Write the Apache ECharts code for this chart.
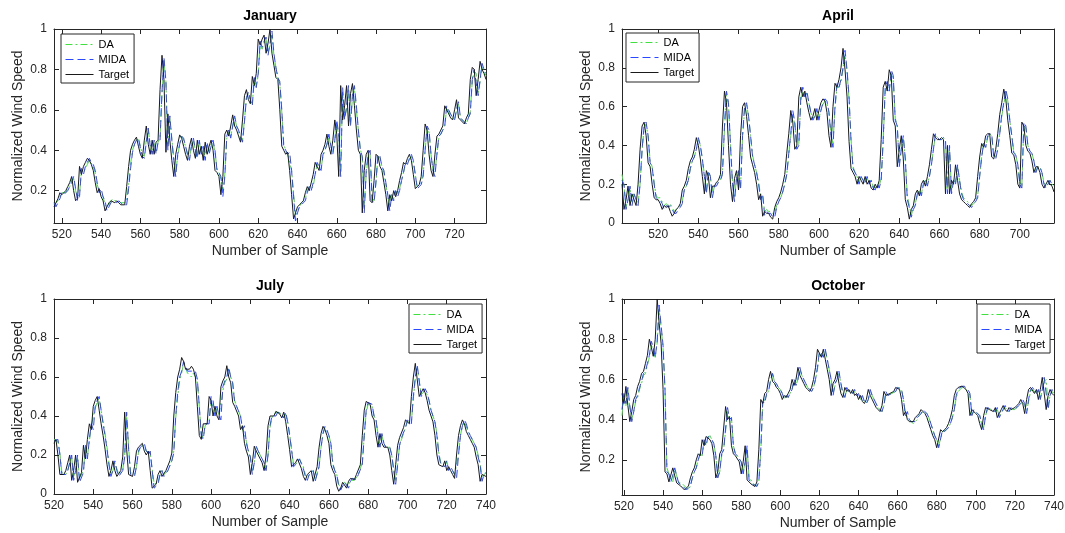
<!DOCTYPE html>
<html><head><meta charset="utf-8">
<script src="https://cdn.jsdelivr.net/npm/echarts@6/dist/echarts.min.js"></script>
<style>html,body{margin:0;padding:0;background:#fff}#c{width:1065px;height:533px}</style>
</head><body><div id="c"></div>
<script>
// ---------------- DATA ----------------
const seriesNames = ['DA', 'MIDA', 'Target'];
const panelTitles = ['January', 'April', 'July', 'October'];
const xAxisLabel = 'Number of Sample';
const yAxisLabel = 'Normalized Wind Speed';

const janXTicks = [520,540,560,580,600,620,640,660,680,700,720];
const aprXTicks = [520,540,560,580,600,620,640,660,680,700];
const julXTicks = [520,540,560,580,600,620,640,660,680,700,720,740];
const octXTicks = [520,540,560,580,600,620,640,660,680,700,720,740];
const yTicksFrom0 = [0,0.2,0.4,0.6,0.8,1];
const yTicksFrom02 = [0.2,0.4,0.6,0.8,1];

// January, samples 516..736
const janStart = 516;
const janTarget = [0.12,0.14,0.16,0.19,0.18,0.19,0.2,0.22,0.24,0.27,
0.2,0.15,0.16,0.32,0.28,0.32,0.34,0.36,0.35,0.33,
0.3,0.24,0.19,0.21,0.17,0.15,0.1,0.12,0.14,0.15,
0.15,0.14,0.15,0.14,0.13,0.13,0.13,0.22,0.32,0.4,
0.43,0.45,0.465,0.42,0.38,0.36,0.45,0.52,0.43,0.38,
0.45,0.38,0.44,0.45,0.7,0.87,0.75,0.39,0.58,0.45,
0.35,0.27,0.38,0.43,0.476,0.46,0.42,0.38,0.35,0.42,
0.46,0.4,0.36,0.45,0.38,0.42,0.35,0.44,0.38,0.42,
0.45,0.4,0.3,0.29,0.27,0.18,0.27,0.48,0.5,0.47,
0.52,0.575,0.52,0.5,0.47,0.44,0.55,0.67,0.7,0.65,
0.63,0.765,0.72,0.78,0.95,0.92,0.95,0.97,0.88,0.93,
1.0,0.88,0.82,0.76,0.75,0.6,0.42,0.4,0.38,0.39,
0.3,0.18,0.06,0.09,0.12,0.13,0.14,0.15,0.19,0.22,
0.2,0.2,0.28,0.34,0.32,0.3,0.38,0.4,0.43,0.48,
0.42,0.38,0.45,0.55,0.48,0.27,0.72,0.55,0.62,0.72,
0.52,0.68,0.73,0.62,0.5,0.4,0.38,0.09,0.3,0.38,
0.4,0.15,0.14,0.25,0.38,0.37,0.32,0.3,0.24,0.18,
0.1,0.18,0.15,0.2,0.17,0.2,0.25,0.29,0.34,0.33,
0.36,0.38,0.35,0.28,0.21,0.22,0.23,0.27,0.4,0.53,
0.5,0.38,0.3,0.27,0.38,0.47,0.48,0.5,0.52,0.62,
0.6,0.58,0.56,0.55,0.6,0.65,0.56,0.55,0.54,0.53,
0.56,0.58,0.75,0.81,0.8,0.67,0.75,0.84,0.8,0.78,
0.75];
const janDA = [0.13,0.13,0.15,0.17,0.19,0.19,0.19,0.21,0.22,0.25,
0.26,0.2,0.17,0.18,0.3,0.29,0.31,0.33,0.35,0.35,
0.32,0.29,0.23,0.2,0.2,0.17,0.13,0.12,0.13,0.15,
0.16,0.15,0.15,0.15,0.14,0.14,0.14,0.15,0.23,0.33,
0.4,0.43,0.45,0.46,0.42,0.38,0.37,0.45,0.5,0.43,
0.4,0.44,0.39,0.44,0.46,0.68,0.84,0.74,0.43,0.56,
0.46,0.36,0.29,0.37,0.43,0.47,0.45,0.42,0.38,0.36,
0.42,0.45,0.4,0.37,0.44,0.39,0.41,0.36,0.43,0.39,
0.43,0.44,0.39,0.31,0.29,0.26,0.2,0.28,0.46,0.49,
0.47,0.52,0.56,0.52,0.49,0.46,0.45,0.55,0.66,0.68,
0.64,0.63,0.75,0.72,0.77,0.92,0.9,0.93,0.95,0.88,
0.92,0.97,0.87,0.81,0.76,0.73,0.59,0.43,0.4,0.38,
0.38,0.3,0.19,0.08,0.1,0.12,0.14,0.15,0.16,0.2,
0.22,0.21,0.22,0.28,0.33,0.32,0.31,0.37,0.4,0.43,
0.47,0.42,0.39,0.44,0.53,0.47,0.3,0.68,0.56,0.6,
0.7,0.53,0.66,0.71,0.6,0.5,0.41,0.36,0.12,0.28,
0.37,0.38,0.17,0.15,0.24,0.37,0.36,0.32,0.29,0.23,
0.17,0.12,0.18,0.16,0.2,0.18,0.21,0.25,0.29,0.33,
0.33,0.35,0.37,0.34,0.28,0.22,0.22,0.24,0.28,0.4,
0.51,0.49,0.38,0.3,0.29,0.38,0.46,0.48,0.5,0.52,
0.61,0.59,0.57,0.56,0.55,0.6,0.63,0.56,0.55,0.54,
0.53,0.56,0.59,0.74,0.79,0.78,0.68,0.74,0.82,0.79,
0.77];
const janMIDA = [0.14,0.12,0.14,0.16,0.19,0.18,0.19,0.2,0.22,0.24,
0.27,0.21,0.15,0.17,0.31,0.28,0.32,0.34,0.36,0.34,
0.33,0.3,0.24,0.19,0.21,0.17,0.15,0.1,0.12,0.14,
0.15,0.15,0.14,0.15,0.14,0.13,0.13,0.13,0.21,0.31,
0.39,0.43,0.45,0.46,0.41,0.37,0.36,0.44,0.51,0.42,
0.38,0.45,0.38,0.44,0.45,0.69,0.86,0.74,0.4,0.57,
0.45,0.35,0.27,0.38,0.43,0.47,0.46,0.42,0.38,0.35,
0.42,0.46,0.4,0.36,0.45,0.38,0.42,0.35,0.44,0.38,
0.42,0.45,0.4,0.3,0.29,0.27,0.17,0.27,0.47,0.5,
0.46,0.52,0.57,0.52,0.5,0.47,0.44,0.54,0.66,0.69,
0.65,0.62,0.76,0.71,0.78,0.94,0.91,0.94,0.96,0.87,
0.93,0.99,0.88,0.81,0.76,0.74,0.6,0.42,0.4,0.38,
0.39,0.3,0.17,0.05,0.09,0.12,0.13,0.14,0.15,0.19,
0.22,0.2,0.2,0.28,0.34,0.32,0.3,0.38,0.4,0.43,
0.48,0.42,0.38,0.45,0.55,0.48,0.27,0.71,0.55,0.62,
0.72,0.52,0.68,0.72,0.62,0.5,0.4,0.37,0.09,0.3,
0.38,0.4,0.15,0.14,0.25,0.38,0.37,0.32,0.3,0.24,
0.18,0.1,0.18,0.15,0.2,0.17,0.2,0.25,0.29,0.34,
0.33,0.36,0.38,0.35,0.28,0.21,0.22,0.23,0.27,0.4,
0.52,0.5,0.38,0.3,0.27,0.38,0.47,0.48,0.5,0.52,
0.62,0.6,0.58,0.56,0.55,0.6,0.64,0.56,0.55,0.54,
0.53,0.56,0.58,0.75,0.8,0.8,0.67,0.75,0.83,0.8,
0.78];

// April, samples 502..717
const aprStart = 502;
const aprTarget = [0.2,0.07,0.12,0.19,0.09,0.15,0.12,0.09,0.2,0.38,
0.5,0.52,0.45,0.31,0.29,0.2,0.13,0.12,0.12,0.1,
0.07,0.09,0.08,0.09,0.06,0.035,0.05,0.07,0.08,0.1,
0.17,0.19,0.22,0.28,0.32,0.34,0.38,0.44,0.4,0.33,
0.24,0.15,0.27,0.24,0.13,0.19,0.19,0.21,0.22,0.25,
0.5,0.68,0.62,0.4,0.2,0.11,0.23,0.27,0.17,0.45,
0.6,0.62,0.55,0.45,0.34,0.3,0.26,0.2,0.12,0.15,
0.035,0.06,0.05,0.05,0.03,0.02,0.08,0.11,0.13,0.16,
0.2,0.25,0.36,0.46,0.58,0.52,0.38,0.4,0.65,0.7,
0.65,0.68,0.62,0.57,0.53,0.55,0.59,0.53,0.58,0.62,
0.64,0.63,0.57,0.45,0.39,0.6,0.72,0.7,0.74,0.8,
0.9,0.79,0.65,0.42,0.28,0.26,0.24,0.2,0.24,0.22,
0.2,0.24,0.2,0.22,0.18,0.17,0.2,0.18,0.22,0.43,
0.7,0.73,0.68,0.79,0.76,0.53,0.5,0.29,0.38,0.45,
0.33,0.12,0.08,0.02,0.07,0.09,0.15,0.17,0.14,0.2,
0.22,0.19,0.24,0.3,0.38,0.46,0.44,0.43,0.43,0.44,
0.43,0.15,0.4,0.15,0.22,0.2,0.3,0.22,0.15,0.12,
0.11,0.1,0.09,0.08,0.1,0.11,0.13,0.24,0.34,0.41,
0.39,0.45,0.46,0.46,0.34,0.33,0.38,0.46,0.56,0.62,
0.69,0.64,0.53,0.45,0.36,0.35,0.3,0.2,0.18,0.52,
0.5,0.4,0.37,0.36,0.32,0.26,0.29,0.29,0.26,0.2,
0.18,0.2,0.22,0.2,0.19,0.16];
const aprDA = [0.25,0.19,0.08,0.12,0.18,0.1,0.15,0.12,0.1,0.2,
0.37,0.49,0.51,0.45,0.32,0.29,0.21,0.14,0.13,0.13,
0.11,0.09,0.1,0.09,0.1,0.08,0.06,0.07,0.08,0.09,
0.11,0.17,0.19,0.22,0.28,0.32,0.34,0.38,0.43,0.4,
0.33,0.25,0.16,0.26,0.24,0.14,0.19,0.2,0.21,0.22,
0.26,0.48,0.66,0.61,0.41,0.21,0.13,0.23,0.26,0.19,
0.44,0.58,0.61,0.55,0.45,0.35,0.3,0.26,0.21,0.14,
0.14,0.06,0.07,0.06,0.06,0.05,0.05,0.09,0.11,0.13,
0.16,0.2,0.25,0.35,0.45,0.56,0.51,0.39,0.41,0.63,
0.68,0.65,0.67,0.62,0.57,0.54,0.55,0.58,0.54,0.58,
0.61,0.63,0.62,0.57,0.46,0.41,0.59,0.7,0.7,0.73,
0.79,0.87,0.78,0.64,0.43,0.29,0.26,0.24,0.21,0.24,
0.22,0.21,0.23,0.21,0.22,0.19,0.18,0.2,0.19,0.23,
0.42,0.68,0.71,0.68,0.77,0.74,0.54,0.5,0.31,0.38,
0.44,0.33,0.14,0.09,0.04,0.08,0.1,0.15,0.17,0.15,
0.2,0.22,0.2,0.24,0.3,0.38,0.45,0.44,0.43,0.43,
0.44,0.42,0.17,0.38,0.17,0.22,0.21,0.29,0.22,0.16,
0.13,0.12,0.11,0.1,0.09,0.1,0.11,0.14,0.24,0.34,
0.41,0.39,0.44,0.46,0.45,0.35,0.34,0.38,0.46,0.55,
0.61,0.67,0.63,0.53,0.45,0.37,0.35,0.3,0.21,0.19,
0.5,0.49,0.4,0.37,0.36,0.32,0.27,0.29,0.29,0.26,
0.21,0.19,0.2,0.22,0.2,0.19];
const aprMIDA = [0.22,0.2,0.07,0.12,0.19,0.09,0.15,0.12,0.09,0.2,
0.38,0.5,0.52,0.45,0.31,0.29,0.2,0.13,0.12,0.12,
0.1,0.07,0.09,0.08,0.09,0.07,0.05,0.05,0.07,0.08,
0.1,0.17,0.19,0.22,0.28,0.32,0.34,0.38,0.44,0.4,
0.33,0.24,0.15,0.27,0.24,0.13,0.19,0.19,0.21,0.22,
0.25,0.5,0.68,0.62,0.4,0.2,0.11,0.23,0.27,0.17,
0.45,0.6,0.62,0.55,0.45,0.34,0.3,0.26,0.2,0.12,
0.15,0.04,0.06,0.05,0.05,0.03,0.03,0.08,0.11,0.13,
0.16,0.2,0.25,0.36,0.46,0.58,0.52,0.38,0.4,0.65,
0.7,0.65,0.68,0.62,0.57,0.53,0.55,0.59,0.53,0.58,
0.62,0.64,0.63,0.57,0.45,0.39,0.6,0.72,0.7,0.74,
0.8,0.89,0.79,0.65,0.42,0.28,0.26,0.24,0.2,0.24,
0.22,0.2,0.24,0.2,0.22,0.18,0.17,0.2,0.18,0.22,
0.43,0.7,0.73,0.68,0.79,0.76,0.53,0.5,0.29,0.38,
0.45,0.33,0.12,0.08,0.03,0.07,0.09,0.15,0.17,0.14,
0.2,0.22,0.19,0.24,0.3,0.38,0.46,0.44,0.43,0.43,
0.44,0.43,0.15,0.4,0.15,0.22,0.2,0.3,0.22,0.15,
0.12,0.11,0.1,0.09,0.08,0.1,0.11,0.13,0.24,0.34,
0.41,0.39,0.45,0.46,0.46,0.34,0.33,0.38,0.46,0.56,
0.62,0.69,0.64,0.53,0.45,0.36,0.35,0.3,0.2,0.18,
0.52,0.5,0.4,0.37,0.36,0.32,0.26,0.29,0.29,0.26,
0.2,0.18,0.2,0.22,0.2,0.19];

// July, samples 520..740
const julStart = 520;
const julTarget = [0.26,0.28,0.2,0.1,0.09,0.1,0.12,0.16,0.2,0.07,
0.12,0.2,0.06,0.07,0.11,0.25,0.18,0.28,0.36,0.33,
0.45,0.48,0.5,0.43,0.36,0.3,0.23,0.15,0.09,0.12,
0.17,0.12,0.09,0.09,0.12,0.19,0.42,0.23,0.1,0.11,
0.09,0.14,0.22,0.24,0.24,0.26,0.22,0.2,0.22,0.12,
0.03,0.022,0.05,0.1,0.12,0.09,0.1,0.12,0.12,0.17,
0.21,0.4,0.52,0.6,0.64,0.7,0.68,0.64,0.64,0.64,
0.655,0.64,0.6,0.45,0.3,0.28,0.36,0.35,0.36,0.5,
0.48,0.4,0.45,0.4,0.38,0.55,0.58,0.6,0.658,0.6,
0.57,0.47,0.45,0.46,0.4,0.33,0.35,0.26,0.22,0.19,
0.1,0.16,0.245,0.22,0.2,0.18,0.16,0.12,0.2,0.35,
0.4,0.41,0.4,0.424,0.42,0.41,0.39,0.42,0.37,0.3,
0.227,0.14,0.14,0.16,0.18,0.185,0.13,0.09,0.07,0.1,
0.1,0.12,0.065,0.07,0.14,0.24,0.31,0.347,0.33,0.3,
0.26,0.15,0.12,0.1,0.04,0.014,0.03,0.06,0.07,0.03,
0.065,0.08,0.07,0.074,0.1,0.09,0.15,0.3,0.43,0.475,
0.48,0.46,0.4,0.38,0.3,0.24,0.31,0.26,0.24,0.25,
0.24,0.2,0.12,0.05,0.15,0.25,0.29,0.28,0.34,0.38,
0.37,0.36,0.5,0.6,0.67,0.66,0.5,0.5,0.54,0.52,
0.48,0.43,0.4,0.37,0.3,0.2,0.15,0.14,0.14,0.17,
0.12,0.14,0.12,0.1,0.08,0.2,0.3,0.35,0.38,0.36,
0.32,0.3,0.28,0.26,0.24,0.19,0.15,0.065,0.1,0.11,
0.09];
const julDA = [0.28,0.27,0.27,0.21,0.11,0.1,0.1,0.12,0.16,0.19,
0.09,0.12,0.19,0.08,0.08,0.12,0.24,0.19,0.27,0.35,
0.34,0.44,0.47,0.49,0.43,0.37,0.31,0.24,0.16,0.1,
0.12,0.16,0.13,0.1,0.1,0.12,0.2,0.4,0.24,0.11,
0.11,0.1,0.14,0.21,0.24,0.24,0.25,0.22,0.21,0.21,
0.13,0.05,0.04,0.06,0.1,0.12,0.1,0.1,0.12,0.13,
0.17,0.22,0.39,0.5,0.58,0.62,0.67,0.66,0.62,0.61,
0.6,0.62,0.62,0.58,0.45,0.31,0.29,0.35,0.35,0.37,
0.48,0.47,0.41,0.44,0.4,0.39,0.53,0.57,0.59,0.64,
0.6,0.57,0.48,0.45,0.45,0.4,0.34,0.34,0.27,0.22,
0.19,0.12,0.16,0.24,0.22,0.2,0.18,0.16,0.13,0.2,
0.34,0.39,0.41,0.4,0.42,0.41,0.41,0.39,0.41,0.37,
0.31,0.23,0.15,0.14,0.16,0.18,0.18,0.14,0.1,0.08,
0.1,0.1,0.12,0.07,0.08,0.14,0.24,0.31,0.34,0.33,
0.3,0.26,0.16,0.12,0.1,0.05,0.03,0.04,0.06,0.07,
0.04,0.07,0.08,0.07,0.08,0.1,0.1,0.16,0.3,0.42,
0.46,0.47,0.45,0.4,0.38,0.31,0.25,0.3,0.26,0.24,
0.25,0.24,0.2,0.13,0.07,0.15,0.25,0.28,0.28,0.34,
0.37,0.37,0.37,0.49,0.59,0.65,0.64,0.51,0.5,0.53,
0.51,0.48,0.43,0.4,0.37,0.31,0.21,0.16,0.15,0.14,
0.17,0.13,0.14,0.12,0.1,0.09,0.2,0.3,0.35,0.37,
0.36,0.32,0.3,0.28,0.26,0.24,0.2,0.16,0.08,0.1,
0.11];
const julMIDA = [0.27,0.26,0.28,0.2,0.1,0.09,0.1,0.12,0.16,0.2,
0.07,0.12,0.2,0.06,0.07,0.11,0.25,0.18,0.28,0.36,
0.33,0.45,0.48,0.5,0.43,0.36,0.3,0.23,0.15,0.09,
0.12,0.17,0.12,0.09,0.09,0.12,0.19,0.42,0.23,0.1,
0.11,0.09,0.14,0.22,0.24,0.24,0.26,0.22,0.2,0.22,
0.12,0.03,0.03,0.05,0.1,0.12,0.09,0.1,0.12,0.12,
0.17,0.21,0.4,0.52,0.6,0.63,0.68,0.67,0.63,0.63,
0.63,0.64,0.63,0.59,0.45,0.3,0.28,0.36,0.35,0.36,
0.5,0.48,0.4,0.45,0.4,0.38,0.55,0.58,0.6,0.65,
0.6,0.57,0.47,0.45,0.46,0.4,0.33,0.35,0.26,0.22,
0.19,0.1,0.16,0.245,0.22,0.2,0.18,0.16,0.12,0.2,
0.35,0.4,0.41,0.4,0.42,0.42,0.41,0.39,0.42,0.37,
0.3,0.227,0.14,0.14,0.16,0.18,0.185,0.13,0.09,0.07,
0.1,0.1,0.12,0.065,0.07,0.14,0.24,0.31,0.347,0.33,
0.3,0.26,0.15,0.12,0.1,0.04,0.02,0.03,0.06,0.07,
0.03,0.065,0.08,0.07,0.074,0.1,0.09,0.15,0.3,0.43,
0.47,0.48,0.46,0.4,0.38,0.3,0.24,0.31,0.26,0.24,
0.25,0.24,0.2,0.12,0.05,0.15,0.25,0.29,0.28,0.34,
0.38,0.37,0.36,0.5,0.6,0.66,0.66,0.5,0.5,0.54,
0.52,0.48,0.43,0.4,0.37,0.3,0.2,0.15,0.14,0.14,
0.17,0.12,0.14,0.12,0.1,0.08,0.2,0.3,0.35,0.38,
0.36,0.32,0.3,0.28,0.26,0.24,0.19,0.15,0.065,0.1,
0.11];

// October, samples 519..740
const octStart = 519;
const octTarget = [0.53,0.48,0.565,0.47,0.39,0.44,0.5,0.52,0.565,0.59,
0.63,0.64,0.68,0.72,0.8,0.76,0.715,0.8,1.0,0.88,
0.78,0.55,0.14,0.13,0.09,0.085,0.16,0.12,0.085,0.09,
0.07,0.067,0.05,0.042,0.07,0.11,0.14,0.16,0.2,0.23,
0.22,0.3,0.27,0.316,0.32,0.3,0.28,0.22,0.11,0.14,
0.23,0.25,0.25,0.465,0.4,0.415,0.27,0.23,0.22,0.22,
0.19,0.13,0.19,0.27,0.1,0.1,0.08,0.08,0.067,0.09,
0.25,0.5,0.48,0.53,0.54,0.6,0.64,0.59,0.58,0.56,
0.55,0.53,0.5,0.52,0.51,0.53,0.55,0.6,0.57,0.6,
0.66,0.62,0.6,0.58,0.56,0.55,0.54,0.56,0.6,0.66,
0.75,0.73,0.71,0.75,0.7,0.65,0.6,0.52,0.58,0.6,
0.64,0.58,0.53,0.51,0.56,0.54,0.55,0.53,0.55,0.52,
0.53,0.5,0.52,0.49,0.48,0.5,0.55,0.52,0.5,0.48,
0.46,0.45,0.44,0.47,0.54,0.52,0.52,0.53,0.53,0.54,
0.56,0.567,0.55,0.5,0.42,0.44,0.4,0.39,0.383,0.39,
0.41,0.42,0.43,0.45,0.44,0.43,0.41,0.38,0.35,0.32,
0.3,0.26,0.26,0.35,0.34,0.35,0.36,0.38,0.41,0.45,
0.52,0.55,0.56,0.567,0.567,0.56,0.55,0.53,0.42,0.45,
0.44,0.43,0.42,0.38,0.35,0.42,0.46,0.46,0.45,0.45,
0.44,0.46,0.41,0.43,0.45,0.47,0.45,0.44,0.46,0.45,
0.45,0.46,0.47,0.48,0.5,0.48,0.43,0.5,0.55,0.56,
0.56,0.53,0.55,0.5,0.55,0.61,0.61,0.45,0.52,0.55,
0.53,0.52];
const octDA = [0.42,0.52,0.47,0.55,0.46,0.4,0.44,0.49,0.51,0.55,
0.58,0.62,0.63,0.67,0.71,0.77,0.75,0.71,0.78,0.95,
0.86,0.76,0.55,0.16,0.13,0.1,0.09,0.15,0.12,0.09,
0.09,0.08,0.07,0.06,0.05,0.07,0.11,0.14,0.16,0.2,
0.23,0.22,0.29,0.27,0.31,0.32,0.3,0.28,0.22,0.12,
0.14,0.22,0.25,0.25,0.44,0.4,0.41,0.27,0.23,0.22,
0.22,0.19,0.14,0.19,0.26,0.11,0.1,0.08,0.08,0.07,
0.09,0.24,0.48,0.48,0.52,0.54,0.59,0.63,0.59,0.57,
0.56,0.55,0.53,0.5,0.52,0.51,0.53,0.55,0.59,0.57,
0.6,0.65,0.62,0.6,0.58,0.56,0.55,0.54,0.56,0.6,
0.65,0.73,0.72,0.71,0.74,0.7,0.65,0.6,0.53,0.57,
0.6,0.63,0.58,0.53,0.51,0.55,0.54,0.55,0.53,0.54,
0.52,0.53,0.5,0.51,0.49,0.48,0.5,0.54,0.52,0.5,
0.48,0.46,0.45,0.44,0.47,0.53,0.52,0.52,0.53,0.53,
0.54,0.55,0.56,0.55,0.5,0.43,0.43,0.4,0.39,0.38,
0.39,0.4,0.42,0.43,0.44,0.44,0.43,0.41,0.38,0.35,
0.32,0.3,0.27,0.27,0.34,0.34,0.35,0.36,0.38,0.41,
0.45,0.51,0.54,0.55,0.56,0.56,0.55,0.54,0.52,0.42,
0.44,0.44,0.43,0.42,0.38,0.36,0.42,0.45,0.46,0.45,
0.45,0.44,0.45,0.42,0.43,0.45,0.46,0.45,0.44,0.45,
0.45,0.45,0.46,0.47,0.48,0.49,0.47,0.44,0.49,0.54,
0.55,0.55,0.53,0.54,0.51,0.54,0.59,0.6,0.47,0.52,
0.54,0.53];
const octMIDA = [0.45,0.53,0.48,0.56,0.47,0.39,0.44,0.5,0.52,0.56,
0.59,0.63,0.64,0.68,0.72,0.79,0.76,0.71,0.79,0.97,
0.87,0.77,0.55,0.14,0.13,0.09,0.085,0.16,0.12,0.085,
0.09,0.07,0.067,0.05,0.042,0.07,0.11,0.14,0.16,0.2,
0.23,0.22,0.3,0.27,0.316,0.32,0.3,0.28,0.22,0.11,
0.14,0.23,0.25,0.25,0.46,0.4,0.41,0.27,0.23,0.22,
0.22,0.19,0.13,0.19,0.27,0.1,0.1,0.08,0.08,0.067,
0.09,0.25,0.49,0.48,0.53,0.54,0.6,0.63,0.59,0.58,
0.56,0.55,0.53,0.5,0.52,0.51,0.53,0.55,0.6,0.57,
0.6,0.66,0.62,0.6,0.58,0.56,0.55,0.54,0.56,0.6,
0.66,0.74,0.73,0.71,0.75,0.7,0.65,0.6,0.52,0.58,
0.6,0.64,0.58,0.53,0.51,0.56,0.54,0.55,0.53,0.55,
0.52,0.53,0.5,0.52,0.49,0.48,0.5,0.55,0.52,0.5,
0.48,0.46,0.45,0.44,0.47,0.54,0.52,0.52,0.53,0.53,
0.54,0.56,0.567,0.55,0.5,0.42,0.44,0.4,0.39,0.383,
0.39,0.41,0.42,0.43,0.45,0.44,0.43,0.41,0.38,0.35,
0.32,0.3,0.26,0.26,0.35,0.34,0.35,0.36,0.38,0.41,
0.45,0.52,0.55,0.56,0.567,0.567,0.56,0.55,0.53,0.42,
0.45,0.44,0.43,0.42,0.38,0.35,0.42,0.46,0.46,0.45,
0.45,0.44,0.46,0.41,0.43,0.45,0.47,0.45,0.44,0.46,
0.45,0.45,0.46,0.47,0.48,0.5,0.48,0.43,0.5,0.55,
0.56,0.56,0.53,0.55,0.5,0.55,0.61,0.61,0.45,0.52,
0.55,0.53];

// ---------------- LAYOUT / STYLE ----------------
const FONT = '"Liberation Sans", Arial, Helvetica, sans-serif';
const AX = '#262626';
const styles = {
  DA:     {color: '#3fe03f', type: [7, 3, 2, 3]},
  MIDA:   {color: '#2a48ff', type: [8, 4]},
  Target: {color: '#1a1a1a', type: 'solid'}
};

const panels = [
  {title: panelTitles[0], start: janStart, vals: [janDA, janMIDA, janTarget],
   xMin: 516, xMax: 736, yMin: 0.04, yMax: 1, xTicks: janXTicks, yTicks: yTicksFrom02,
   grid: {left: 54, top: 29, width: 432, height: 194}, legend: {left: 61, top: 34, pad: [5, 5, 3, 4]}},
  {title: panelTitles[1], start: aprStart, vals: [aprDA, aprMIDA, aprTarget],
   xMin: 502, xMax: 717, yMin: 0, yMax: 1, xTicks: aprXTicks, yTicks: yTicksFrom0,
   grid: {left: 622, top: 29, width: 432, height: 194}, legend: {left: 626, top: 33, pad: [4, 5, 4, 4]}},
  {title: panelTitles[2], start: julStart, vals: [julDA, julMIDA, julTarget],
   xMin: 520, xMax: 740, yMin: 0, yMax: 1, xTicks: julXTicks, yTicks: yTicksFrom0,
   grid: {left: 54, top: 299, width: 432, height: 195}, legend: {left: 409, top: 304, pad: [5, 5, 3, 4]}},
  {title: panelTitles[3], start: octStart, vals: [octDA, octMIDA, octTarget],
   xMin: 519, xMax: 740, yMin: 0.025, yMax: 1, xTicks: octXTicks, yTicks: yTicksFrom02,
   grid: {left: 622, top: 299, width: 432, height: 196}, legend: {left: 977, top: 304, pad: [5, 5, 3, 4]}}
];

const grids = [], xAxes = [], yAxes = [], series = [], legends = [], graphics = [];
panels.forEach((p, k) => {
  grids.push(Object.assign({containLabel: false, outerBoundsMode: 'none'}, p.grid));
  const line = {onZero: false, lineStyle: {color: AX, width: 1}};
  const tick = (vals) => ({inside: true, length: 5, customValues: vals, lineStyle: {color: AX, width: 1}});
  xAxes.push({type: 'value', gridIndex: k, position: 'bottom', min: p.xMin, max: p.xMax,
    axisLine: line, axisTick: tick(p.xTicks), splitLine: {show: false},
    axisLabel: {customValues: p.xTicks, color: AX, fontSize: 12, fontFamily: FONT, margin: 6},
    name: xAxisLabel, nameLocation: 'middle', nameGap: 21,
    nameTextStyle: {color: AX, fontSize: 14, fontFamily: FONT}});
  xAxes.push({type: 'value', gridIndex: k, position: 'top', min: p.xMin, max: p.xMax,
    axisLine: line, axisTick: tick(p.xTicks), splitLine: {show: false}, axisLabel: {show: false}});
  yAxes.push({type: 'value', gridIndex: k, position: 'left', min: p.yMin, max: p.yMax,
    axisLine: line, axisTick: tick(p.yTicks), splitLine: {show: false},
    axisLabel: {customValues: p.yTicks, color: AX, fontSize: 12, fontFamily: FONT, margin: 7},
    name: yAxisLabel, nameLocation: 'middle', nameGap: 29,
    nameTextStyle: {color: AX, fontSize: 14, fontFamily: FONT}});
  yAxes.push({type: 'value', gridIndex: k, position: 'right', min: p.yMin, max: p.yMax,
    axisLine: line, axisTick: tick(p.yTicks), splitLine: {show: false}, axisLabel: {show: false}});

  seriesNames.forEach((nm, s) => {
    series.push({
      name: nm, type: 'line', xAxisIndex: 2 * k, yAxisIndex: 2 * k,
      data: p.vals[s].map((v, i) => [p.start + i, v]),
      symbol: 'none', showSymbol: false, smooth: false, clip: true, silent: true,
      lineStyle: {color: styles[nm].color, width: 1, type: styles[nm].type},
      itemStyle: {color: styles[nm].color},
      z: 2 + s
    });
  });

  legends.push({
    data: seriesNames.map(nm => ({
      name: nm,
      lineStyle: {color: styles[nm].color, width: 1, type: styles[nm].type},
      itemStyle: {opacity: 0, color: 'rgba(0,0,0,0)', borderWidth: 0}
    })),
    orient: 'vertical', left: p.legend.left, top: p.legend.top,
    itemWidth: 28, itemHeight: 11, itemGap: 4, padding: p.legend.pad,
    borderColor: AX, borderWidth: 1, backgroundColor: '#ffffff', borderRadius: 0,
    itemStyle: {opacity: 0, color: 'rgba(0,0,0,0)', borderWidth: 0},
    textStyle: {color: '#000', fontSize: 11, fontFamily: FONT, lineHeight: 11},
    selectedMode: false
  });

  const cx = p.grid.left + p.grid.width / 2;
  const cy = p.grid.top - 13;
  graphics.push({type: 'text', x: cx, y: cy, silent: true,
    style: {text: p.title, fill: '#000', font: 'bold 14px ' + FONT,
      align: 'center', verticalAlign: 'middle', textAlign: 'center', textVerticalAlign: 'middle'}});
});

const chart = echarts.init(document.getElementById('c'), null, {renderer: 'canvas'});
chart.setOption({
  animation: false,
  backgroundColor: '#ffffff',
  grid: grids, xAxis: xAxes, yAxis: yAxes, series: series,
  legend: legends, graphic: graphics, tooltip: {show: false}
});
</script></body></html>
